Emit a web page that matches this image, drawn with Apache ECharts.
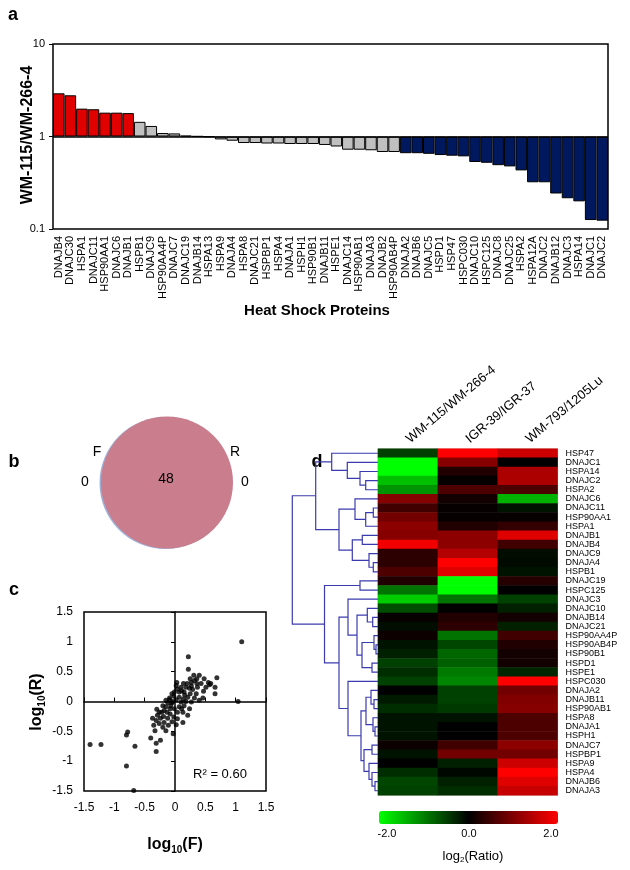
<!DOCTYPE html>
<html>
<head>
<meta charset="utf-8">
<script src="https://cdn.jsdelivr.net/npm/echarts@6/dist/echarts.min.js"></script>
<style>
  html, body { margin: 0; padding: 0; background: #fff; }
  #chart { width: 630px; height: 870px; }
</style>
</head>
<body>
<div id="chart"></div>
<script>
  // a: fold change WM-115 / WM-266-4
  const hspNames = ['DNAJB4','DNAJC30','HSPA1','DNAJC11','HSP90AA1','DNAJC6','DNAJB1','HSPB1','DNAJC9','HSP90AA4P',
    'DNAJC7','DNAJC19','DNAJB14','HSPA13','HSPA9','DNAJA4','HSPA8','DNAJC21','HSPBP1','HSPA4',
    'DNAJA1','HSPH1','HSP90B1','DNAJB11','HSPE1','DNAJC14','HSP90AB1','DNAJA3','DNAJB2','HSP90AB4P',
    'DNAJA2','DNAJB6','DNAJC5','HSPD1','HSP47','HSPC030','DNAJC10','HSPC125','DNAJC8','DNAJC25',
    'HSPA2','HSPA12A','DNAJC2','DNAJB12','DNAJC3','HSPA14','DNAJC1','DNAJC2']
  const hspRatio = [2.93,2.79,2.0,1.97,1.81,1.81,1.79,1.44,1.30,1.09,
    1.08,1.02,1.005,0.99,0.93,0.90,0.85,0.85,0.84,0.84,
    0.83,0.83,0.83,0.81,0.78,0.72,0.72,0.71,0.68,0.68,
    0.66,0.66,0.65,0.63,0.62,0.61,0.53,0.52,0.49,0.475,
    0.43,0.32,0.32,0.242,0.215,0.199,0.125,0.123]
  const foldCut = 1.5

  // b: venn
  const vennSets = ['F', 'R']
  const vennCounts = [0, 48, 0]

  // c: log10(F) vs log10(R)
  const logF = [1.10,1.04,-1.40,-1.22,-0.80,-0.78,-0.66,-0.80,-0.68,-0.40,-0.31,-0.31,-0.24,-0.33,-0.03,0.22,0.22,0.69,0.66,0.66,0.46,0.57,
    0.40,0.36,0.32,0.27,0.14,0.03,0.10,0.18,0.24,0.29,0.37,0.43,0.51,0.47,0.35,0.25,0.15,0.07,0.04,0.21,0.32,0.40,0.14,0.07,
    -0.05,-0.09,-0.02,0.02,0.10,0.15,0.24,0.13,0.21,0.07,-0.01,-0.07,-0.12,-0.15,-0.18,-0.22,-0.13,-0.08,-0.02,0.04,-0.05,-0.12,
    -0.19,-0.24,-0.29,-0.31,-0.26,-0.18,-0.20,-0.11,0.02,0.13,-0.15,-0.35,-0.37,-0.30,-0.20,-0.01,0.02,0.48,0.55,0.59,0.31,0.25,
    0.20,0.36,0.27,0.11,0.16,-0.04,-0.08,0.04,-0.26,-0.09,-0.15,-0.05,0.11,0.27,0.18]
  const logR = [1.0,0.0,-0.72,-0.72,-0.56,-0.51,-0.75,-1.08,-1.49,-0.61,-0.70,-0.84,-0.65,-0.49,-0.54,0.75,0.54,0.40,0.24,0.13,0.06,0.28,
    0.44,0.38,0.35,0.32,0.30,0.32,0.24,0.24,0.22,0.20,0.24,0.30,0.24,0.17,0.13,0.13,0.16,0.16,0.21,0.07,0.06,0.02,0.04,0.07,
    0.13,0.06,0.09,0.03,-0.01,-0.07,-0.12,-0.18,-0.23,-0.09,-0.12,-0.07,-0.02,-0.09,-0.15,-0.18,-0.18,-0.21,-0.26,-0.29,-0.34,-0.28,
    -0.25,-0.28,-0.23,-0.32,-0.37,-0.35,-0.43,-0.40,-0.39,-0.35,-0.49,-0.40,-0.28,-0.13,-0.07,0.16,0.27,0.38,0.32,0.30,0.44,0.38,
    0.30,0.30,0.26,0.18,0.11,0.0,-0.12,-0.18,-0.18,0.03,0.02,-0.02,-0.12,-0.01,0.0]

  // d: heatmap, log2 ratios
  const heatCols = ['WM-115/WM-266-4', 'IGR-39/IGR-37', 'WM-793/1205Lu']
  const heatRows = ['HSP47','DNAJC1','HSPA14','DNAJC2','HSPA2','DNAJC6','DNAJC11','HSP90AA1','HSPA1','DNAJB1',
    'DNAJB4','DNAJC9','DNAJA4','HSPB1','DNAJC19','HSPC125','DNAJC3','DNAJC10','DNAJB14','DNAJC21',
    'HSP90AA4P','HSP90AB4P','HSP90B1','HSPD1','HSPE1','HSPC030','DNAJA2','DNAJB11','HSP90AB1','HSPA8',
    'DNAJA1','HSPH1','DNAJC7','HSPBP1','HSPA9','HSPA4','DNAJB6','DNAJA3']
  const heatWM115 = [-0.5,-2,-2,-1.5,-1.15,1.05,0.5,0.9,1.1,1.05,1.9,0.35,0.35,0.6,0.25,-0.9,-1.6,-0.6,0.05,-0.1,
    0.1,-0.15,-0.25,-0.5,-0.35,-0.5,0,-0.2,-0.35,-0.15,-0.15,-0.15,0.1,-0.15,0,-0.35,-0.55,-0.5]
  const heatIGR39 = [2,1.05,0.25,0.03,0.6,0.15,0.05,0.05,0.25,1.1,1.1,1.4,2,1.75,-2,-2,-0.9,0,0.25,0.35,
    -0.9,-0.55,-0.8,-0.75,-0.95,-1.05,-0.5,-0.5,-0.45,-0.15,0,0,0.5,0.9,-0.25,-0.05,-0.25,-0.35]
  const heatWM793 = [1.6,0,1.35,1.35,0.6,-1.4,-0.15,0.05,0.4,1.75,0.5,-0.1,-0.08,-0.15,0.3,0,-0.5,-0.25,0.15,-0.25,
    0.5,0.25,0.15,0.15,-0.3,2,0.9,1,1.05,0.6,0.6,0.6,1.1,0.9,1.6,2,1.75,1.55]
  const colorbarTicks = [-2, 0, 2]

  // dendrogram: pairs joined (index >= 38 means an earlier join) and join heights
  const dendroMerges = [[3,4],[2,38],[1,39],[0,40],[6,7],[42,8],[5,43],[9,10],[12,13],[11,46],
    [45,47],[44,48],[41,49],[14,15],[18,19],[17,52],[21,22],[20,54],[23,24],[55,56],
    [53,57],[16,58],[27,28],[26,60],[30,31],[29,62],[61,63],[32,33],[36,37],[35,66],
    [34,67],[65,68],[64,69],[25,70],[59,71],[51,72],[50,73]]
  const dendroHeights = [12.3,18,30.7,46.3,4.7,12.3,23,15.7,4.7,9,
    25.7,39,62.3,18,5.3,10.7,2,4,6,16,
    21,30,4,7,3,5,12,6,3,6,
    9,14,17,30,39,53.5,85.7]

  const font = "'Liberation Sans', Arial, sans-serif"
  const red = '#e00000', grey = '#c0c0c0', navy = '#00185e'

  // dendrogram segments from the merge table
  let nodeY = [], nodeH = []
  for (let i = 0; i < heatRows.length; i++) { nodeY[i] = i; nodeH[i] = 0 }
  let dendroLines = []
  for (let k = 0; k < dendroMerges.length; k++) {
    let a = dendroMerges[k][0], b = dendroMerges[k][1], h = dendroHeights[k]
    let id = heatRows.length + k
    nodeY[id] = (nodeY[a] + nodeY[b]) / 2
    nodeH[id] = h
    dendroLines.push({ coords: [[nodeH[a], nodeY[a]], [h, nodeY[a]], [h, nodeY[b]], [nodeH[b], nodeY[b]]] })
  }

  let heatData = []
  let heatSets = [heatWM115, heatIGR39, heatWM793]
  heatSets.forEach((col, c) => col.forEach((v, r) => heatData.push([c, r, v])))

  let scatterData = logF.map((f, i) => [f, logR[i]])

  const txt = (x, y, text, size, extra) => Object.assign({
    type: 'text', x: x, y: y,
    style: { text: text, font: (extra && extra.bold ? 'bold ' : '') + size + 'px ' + font, fill: '#000', textAlign: 'center', textVerticalAlign: 'middle' }
  }, extra && extra.rot ? { rotation: extra.rot } : {})

  const chart = echarts.init(document.getElementById('chart'), null, { renderer: 'canvas' })
  chart.setOption({
    animation: false,
    backgroundColor: '#fff',
    textStyle: { fontFamily: font, color: '#000' },
    grid: [
      { left: 53, top: 44, width: 555, height: 185, show: true, borderColor: '#000', borderWidth: 1.5, outerBoundsMode: 'none' },
      { left: 84, top: 612, width: 182, height: 179, show: true, borderColor: '#000', borderWidth: 1.5, outerBoundsMode: 'none' },
      { left: 290, top: 448.7, width: 88, height: 346.6, outerBoundsMode: 'none' },
      { left: 378, top: 448.7, width: 179.6, height: 346.6, show: true, borderColor: '#d8c8c8', borderWidth: 1, outerBoundsMode: 'none' }
    ],
    xAxis: [
      { type: 'category', gridIndex: 0, data: hspNames,
        axisLine: { show: false }, axisTick: { show: false }, splitLine: { show: false },
        axisLabel: { rotate: 90, interval: 0, fontSize: 11, margin: 7, color: '#000', fontFamily: font } },
      { type: 'value', gridIndex: 1, min: -1.5, max: 1.5, interval: 0.5, position: 'bottom',
        axisLine: { show: false, onZero: false }, axisTick: { show: false }, splitLine: { show: false },
        axisLabel: { fontSize: 12, margin: 11, color: '#000', fontFamily: font } },
      { type: 'value', gridIndex: 1, min: -1.5, max: 1.5, interval: 0.5, position: 'bottom',
        axisLine: { show: true, onZero: true, lineStyle: { color: '#000', width: 1.5 } },
        axisTick: { show: true, inside: true, length: 4, lineStyle: { color: '#000' } },
        axisLabel: { show: false }, splitLine: { show: false } },
      { type: 'value', gridIndex: 2, min: 0, max: 88, inverse: true, show: false },
      { type: 'category', gridIndex: 3, data: heatCols, position: 'top',
        axisLine: { show: false }, axisTick: { show: false }, splitLine: { show: false },
        axisLabel: { rotate: -40, interval: 0, fontSize: 13, margin: 8, color: '#000', fontFamily: font } }
    ],
    yAxis: [
      { type: 'log', gridIndex: 0, logBase: 10, min: 0.1, max: 10,
        axisLine: { show: false }, splitLine: { show: false }, minorTick: { show: false },
        axisTick: { show: true, inside: false, length: 4, lineStyle: { color: '#000' } },
        axisLabel: { fontSize: 11, margin: 8, color: '#000', fontFamily: font } },
      { type: 'value', gridIndex: 1, min: -1.5, max: 1.5, interval: 0.5, position: 'left',
        axisLine: { show: false, onZero: false }, axisTick: { show: false }, splitLine: { show: false },
        axisLabel: { fontSize: 12, margin: 11, color: '#000', fontFamily: font } },
      { type: 'value', gridIndex: 1, min: -1.5, max: 1.5, interval: 0.5, position: 'left',
        axisLine: { show: true, onZero: true, lineStyle: { color: '#000', width: 1.5 } },
        axisTick: { show: true, inside: false, length: 4, lineStyle: { color: '#000' } },
        axisLabel: { show: false }, splitLine: { show: false } },
      { type: 'value', gridIndex: 2, min: -0.5, max: heatRows.length - 0.5, inverse: true, show: false },
      { type: 'category', gridIndex: 3, data: heatRows, inverse: true, position: 'right',
        axisLine: { show: false }, axisTick: { show: false }, splitLine: { show: false },
        axisLabel: { interval: 0, fontSize: 9, margin: 8, color: '#000', fontFamily: font } }
    ],
    visualMap: {
      type: 'continuous', seriesIndex: 3, min: -2, max: 2, orient: 'horizontal',
      left: 379, top: 811, itemWidth: 13, itemHeight: 179, padding: 0,
      calculable: false, text: null, showLabel: false, hoverLink: false,
      inRange: { color: ['#00ff00', '#000000', '#ff0000'] }
    },
    series: [
      { type: 'bar', xAxisIndex: 0, yAxisIndex: 0, data: hspRatio, barCategoryGap: '0%',
        itemStyle: {
          color: p => p.value >= foldCut ? red : (p.value <= 1 / foldCut ? navy : grey),
          borderColor: '#000', borderWidth: 1
        },
        markLine: { silent: true, symbol: 'none', label: { show: false },
          lineStyle: { color: '#000', width: 1.5, type: 'solid' }, data: [{ yAxis: 1 }] } },
      { type: 'scatter', xAxisIndex: 1, yAxisIndex: 1, data: scatterData, symbolSize: 5,
        itemStyle: { color: '#000' }, z: 5 },
      { type: 'lines', coordinateSystem: 'cartesian2d', xAxisIndex: 3, yAxisIndex: 3, polyline: true,
        data: dendroLines, silent: true,
        lineStyle: { color: '#3b3bb0', width: 1.2, opacity: 1 } },
      { type: 'heatmap', xAxisIndex: 4, yAxisIndex: 4, data: heatData, silent: true }
    ],
    graphic: [
      txt(13, 15, 'a', 18, { bold: true }),
      txt(28, 135, 'WM-115/WM-266-4', 16, { bold: true, rot: Math.PI / 2 }),
      txt(317, 311, 'Heat Shock Proteins', 15, { bold: true }),

      txt(14, 462, 'b', 18, { bold: true }),
      { type: 'circle', shape: { cx: 165.5, cy: 483, r: 66 }, style: { fill: '#9fb0d6' } },
      { type: 'circle', shape: { cx: 167, cy: 482.5, r: 66 }, style: { fill: '#c97d8d' } },
      txt(97, 452, vennSets[0], 14),
      txt(235, 452, vennSets[1], 14),
      txt(85, 482, String(vennCounts[0]), 14),
      txt(166, 479, String(vennCounts[1]), 14),
      txt(245, 482, String(vennCounts[2]), 14),

      txt(14, 590, 'c', 18, { bold: true }),
      { type: 'text', x: 37, y: 702, rotation: Math.PI / 2,
        style: { text: '{n|log}{s|10}{n|(R)}', fill: '#000', textAlign: 'center', textVerticalAlign: 'middle',
          rich: { n: { fontSize: 16, fontWeight: 'bold', fontFamily: font, lineHeight: 20, verticalAlign: 'middle' },
                  s: { fontSize: 10, fontWeight: 'bold', fontFamily: font, lineHeight: 12, verticalAlign: 'bottom' } } } },
      { type: 'text', x: 175, y: 845,
        style: { text: '{n|log}{s|10}{n|(F)}', fill: '#000', textAlign: 'center', textVerticalAlign: 'middle',
          rich: { n: { fontSize: 16, fontWeight: 'bold', fontFamily: font, lineHeight: 20, verticalAlign: 'middle' },
                  s: { fontSize: 10, fontWeight: 'bold', fontFamily: font, lineHeight: 12, verticalAlign: 'bottom' } } } },
      txt(220, 774, 'R² = 0.60', 13),

      txt(317, 462, 'd', 18, { bold: true }),
      txt(387, 834, colorbarTicks[0].toFixed(1), 11),
      txt(469, 834, colorbarTicks[1].toFixed(1), 11),
      txt(551, 834, colorbarTicks[2].toFixed(1), 11),
      { type: 'text', x: 473, y: 856,
        style: { text: '{n|log}{s|2}{n|(Ratio)}', fill: '#000', textAlign: 'center', textVerticalAlign: 'middle',
          rich: { n: { fontSize: 13, fontFamily: font, lineHeight: 16, verticalAlign: 'middle' },
                  s: { fontSize: 8, fontFamily: font, lineHeight: 10, verticalAlign: 'bottom' } } } }
    ]
  })
</script>
</body>
</html>
